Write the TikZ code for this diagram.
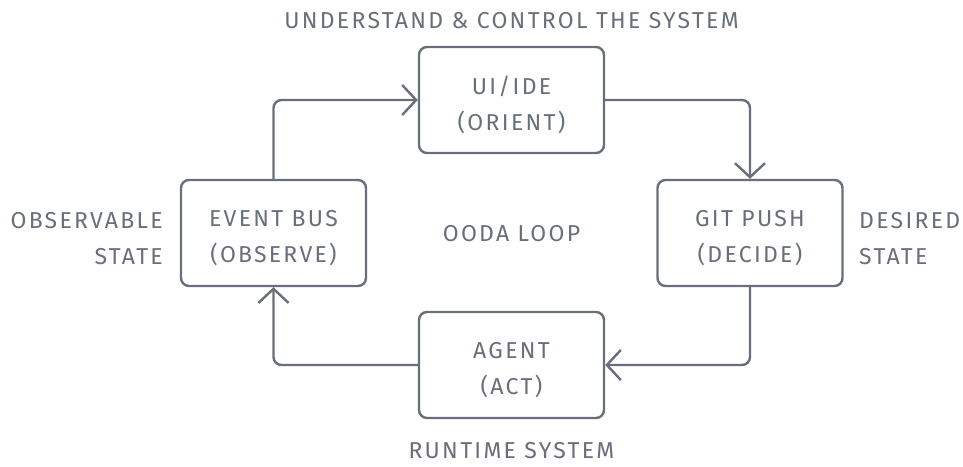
\documentclass[tikz,border=0pt]{standalone}
\usepackage{fontspec}
\setmainfont[LetterSpace=10]{Fira Sans}
\usetikzlibrary{arrows.meta}
\definecolor{ink}{RGB}{104,110,122}
\begin{document}
\begin{tikzpicture}[x=1pt,y=-1pt,
  font=\fontsize{23}{36}\selectfont,
  every node/.style={text=ink},
  stage/.style={draw=ink, line width=2.4pt, rounded corners=8pt,
    minimum width=185pt, minimum height=106pt},
  caption/.style={inner sep=0pt, align=center, yshift=-5pt},
  tag/.style={inner sep=0pt},
  flow/.style={draw=ink, line width=2.4pt, rounded corners=8pt,
    -{Straight Barb[length=14pt,width=30pt,line width=2.4pt]}}]
  \useasboundingbox (0,0) rectangle (963,466);

  \node[stage, label={[caption]center:UI/IDE\\(ORIENT)}]     (ui)    at (511.5,100) {};
  \node[stage, label={[caption]center:GIT PUSH\\(DECIDE)}]   (git)   at (750,233)   {};
  \node[stage, label={[caption]center:AGENT\\(ACT)}]         (agent) at (511.5,365) {};
  \node[stage, label={[caption]center:EVENT BUS\\(OBSERVE)}] (bus)   at (273.5,233) {};

  \node[tag] (loop) at (511.5,234) {OODA LOOP};
  \node[tag] (top) at (511.5,21) {UNDERSTAND \& CONTROL THE SYSTEM};
  \node[tag] (bottom) at (511.5,451) {RUNTIME SYSTEM};
  \node[tag, align=right, anchor=east] (obs) at (163,239) {OBSERVABLE\\STATE};
  \node[tag, align=left, anchor=west] (des) at (859,239) {DESIRED\\STATE};

  \draw[flow] (bus.north) |- (ui.west);
  \draw[flow] (ui.east) -| (git.north);
  \draw[flow] (git.south) |- (agent.east);
  \draw[flow] (agent.west) -| (bus.south);
\end{tikzpicture}
\end{document}
